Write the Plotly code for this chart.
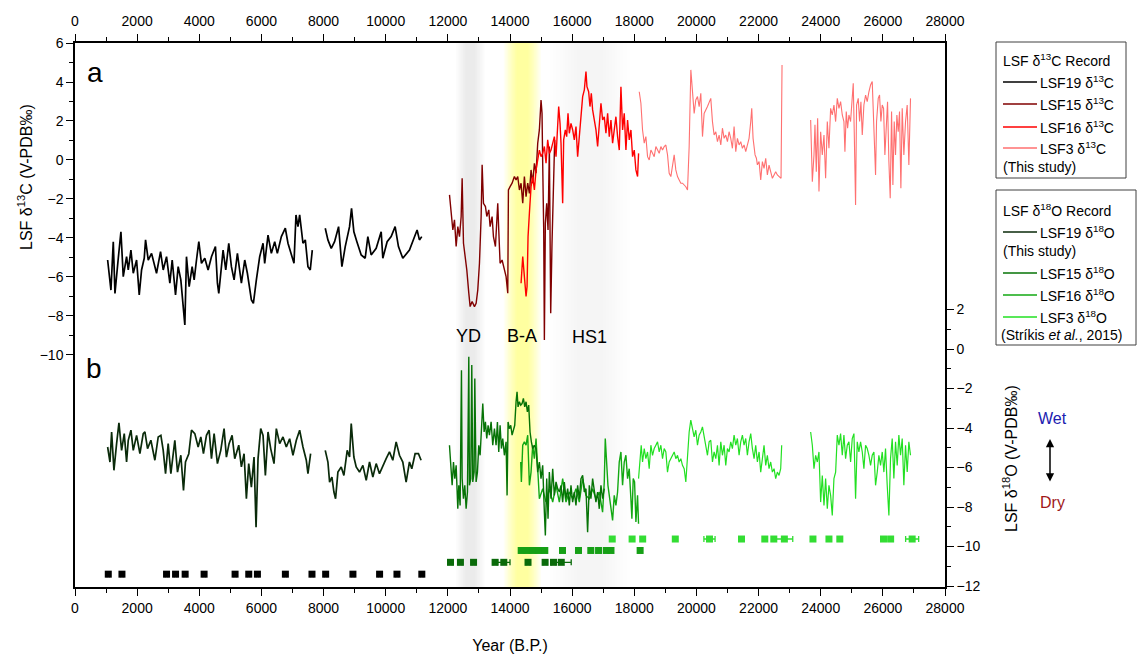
import plotly.graph_objects as go

# ---------------- DATA ----------------
# LSF19 d13C (two segments)
lsf19_c13_year_a = [1050,1157,1232,1286,1393,1478,1553,1660,1714,1800,1875,1982,2067,2142,2228,2271,2357,2464,2624,2753,
                    2839,2946,3053,3128,3235,3321,3406,3535,3588,3674,3770,3835,3910,3985,4070,4177,4284,4392,4520,4584,
                    4627,4766,4852,4949,5034,5120,5227,5355,5463,5548,5677,5741,5837,5944,6052,6105,6212,6319,6427,6512,
                    6641,6769,6855,7048,7112,7176,7230,7337,7412,7497,7572,7637]
lsf19_c13_a = [-5.13,-6.67,-4.19,-6.84,-5.04,-3.68,-5.98,-4.96,-5.64,-4.62,-5.81,-5.13,-6.92,-5.64,-5.04,-4.10,-5.13,-4.79,-5.81,-4.70,
               -5.64,-4.96,-6.32,-5.13,-6.92,-5.47,-6.15,-8.46,-4.96,-6.50,-5.47,-6.15,-5.13,-4.19,-5.30,-5.04,-5.64,-4.96,-4.44,-6.32,
               -6.84,-4.62,-5.64,-4.27,-5.47,-6.15,-4.79,-6.32,-5.13,-5.81,-7.18,-7.35,-6.15,-4.96,-4.27,-5.30,-3.85,-4.79,-4.19,-4.79,
               -3.93,-3.50,-4.27,-5.30,-2.82,-3.42,-2.82,-4.27,-4.10,-5.47,-5.64,-4.62]
lsf19_c13_year_b = [8054,8140,8247,8354,8483,8590,8697,8836,8900,8975,9072,9211,9339,9425,9532,9693,9854,9907,10046,10175,
                    10303,10410,10550,10764,11010,11085,11160]
lsf19_c13_b = [-3.50,-4.10,-4.53,-4.19,-3.42,-5.47,-4.44,-3.42,-2.48,-3.68,-4.19,-4.87,-5.04,-3.93,-4.87,-4.53,-3.68,-5.04,-4.19,-3.93,
               -3.42,-4.44,-5.04,-4.62,-3.59,-4.10,-3.93]

# LSF15 d13C
lsf15_c13_year = [12053,12106,12160,12213,12267,12321,12374,12428,12460,12503,12567,12610,12674,12717,12781,12856,12910,12963,13017,13071,
                  13103,13146,13210,13253,13317,13360,13424,13467,13531,13606,13638,13681,13745,13820,13874,13928,13949,14003,14067,14142,
                  14195,14249,14303,14356,14410,14463,14517,14570,14624,14677,14731,14785,14838,14892,14945,14999,15031,15052,15085,15106,
                  15138,15181,15224,15267,15310,15352,15395,15438]
lsf15_c13 = [-1.79,-2.56,-3.59,-3.07,-4.44,-3.42,-3.93,-2.90,-0.94,-4.27,-4.95,-5.64,-6.83,-7.52,-7.26,-7.52,-7.35,-6.66,-5.30,-2.90,
             -0.25,-2.22,-2.39,-2.90,-2.56,-3.42,-2.90,-3.93,-4.44,-2.22,-3.59,-5.30,-5.13,-5.64,-5.98,-6.83,-1.54,-1.37,-1.19,-0.85,
             -1.02,-0.85,-1.54,-1.19,-2.22,-0.85,-1.88,-1.19,-1.71,-0.51,-1.19,-0.17,-0.68,0.86,1.54,3.08,2.39,-0.17,-3.59,-9.23,
             -3.25,-2.22,-3.59,0.69,-7.86,-4.27,-1.54,1.03]

# LSF16 d13C
lsf16_c13_year = [14356,14410,14463,14517,14549,14581,14624,14677,14731,14785,14838,14892,14945,14999,15052,15106,15160,15213,15267,15320,
                  15374,15428,15481,15535,15567,15610,15642,15695,15727,15781,15824,15867,15909,15963,16017,16070,16124,16177,16231,16284,
                  16338,16392,16445,16477,16531,16574,16617,16659,16713,16767,16820,16874,16927,16981,17034,17088,17142,17195,17249,17302,
                  17356,17409,17463,17517,17570,17624,17677,17731,17784,17838,17892,17945,17999,18052,18106,18138]
lsf16_c13 = [-6.32,-4.95,-5.98,-7.00,-6.49,-3.93,-2.73,-1.37,-0.85,-1.54,-0.51,0.00,0.51,0.17,0.34,0.69,-0.17,1.03,0.34,0.51,
             0.86,1.20,0.17,1.54,2.74,1.88,0.86,-2.22,1.03,1.54,1.20,2.39,1.37,1.88,1.54,1.03,1.71,0.17,1.37,2.57,
             3.25,3.59,4.53,3.76,3.50,2.74,3.42,2.57,2.05,1.54,0.69,1.71,2.91,2.05,2.22,1.37,2.39,1.20,2.05,0.86,
             1.54,2.22,1.20,0.51,3.76,1.54,2.39,0.51,2.05,1.03,1.54,0.17,0.51,-0.51,-0.85,0.34]

# LSF3 d13C (two segments)
lsf3_c13_year_a = [18159,18213,18266,18320,18373,18427,18481,18534,18588,18641,18695,18748,18802,18856,18909,18963,19016,19070,19123,19177,
                   19230,19284,19337,19391,19445,19498,19552,19659,19713,19766,19820,19873,19927,19980,20034,20088,20141,20195,20248,20355,
                   20462,20516,20569,20623,20677,20730,20784,20837,20891,20944,20998,21051,21105,21158,21212,21266,21319,21373,21426,21480,
                   21533,21587,21640,21694,21748,21780,21823,21887,21930,21962,22016,22069,22123,22176,22230,22283,22337,22390,22444,22498,
                   22551,22605,22658,22723,22755]
lsf3_c13_a = [3.50,2.91,1.54,0.86,1.20,0.17,0.00,0.51,0.34,0.17,0.69,0.51,0.34,0.69,0.51,0.69,0.77,0.26,-0.68,-0.85,
              -0.34,0.26,-0.51,-0.85,-1.02,-1.19,-1.19,-1.37,-1.54,0.69,4.62,3.25,2.39,3.08,3.25,2.74,3.42,1.20,2.39,2.74,
              3.16,1.97,1.28,1.45,0.94,1.28,0.77,1.63,1.11,1.28,0.94,1.45,1.11,0.60,1.71,0.43,1.11,0.77,0.94,0.60,
              0.77,0.43,0.77,1.11,1.97,2.65,1.11,0.26,0.09,-0.25,-0.08,-1.02,-0.08,-0.43,0.09,-0.77,-0.26,-0.60,-0.94,-0.77,
              -0.60,-0.77,-0.85,-0.94,4.87]
lsf3_c13_year_b = [23676,23730,23783,23815,23858,23901,23944,23998,24051,24105,24158,24212,24265,24319,24372,24426,24480,24533,24587,24640,
                   24694,24747,24779,24822,24865,24908,24961,25015,25047,25079,25122,25154,25208,25251,25294,25337,25390,25444,25497,25551,
                   25605,25658,25712,25765,25797,25851,25894,25937,25980,26023,26065,26108,26151,26194,26237,26280,26323,26366,26408,26451,
                   26494,26537,26580,26623,26676,26730,26783,26837,26890]
lsf3_c13_b = [2.05,-1.11,0.26,1.80,-0.60,2.14,-1.62,1.45,0.26,1.28,-0.94,1.97,0.60,2.65,2.31,2.82,1.97,3.16,2.65,2.99,
              2.31,1.97,0.43,2.48,1.63,2.31,1.97,2.99,3.93,1.45,-2.31,2.82,3.16,1.97,2.99,1.28,2.82,3.33,2.99,3.50,
              3.85,4.02,0.94,-0.77,1.97,3.16,3.33,1.97,2.82,2.65,0.26,1.97,2.99,-0.08,-1.96,2.48,-1.28,1.97,0.26,2.31,
              1.45,2.48,-1.45,2.65,0.26,1.97,2.82,-0.26,3.16]

# LSF19 d18O (two segments)
lsf19_o18_year_a = [1050,1125,1179,1253,1339,1414,1500,1585,1660,1714,1800,1875,1982,2089,2196,2250,2335,2442,2571,2678,
                    2764,2839,2914,2999,3085,3213,3299,3406,3492,3556,3663,3749,3856,3963,4049,4134,4231,4317,4392,4477,
                    4584,4691,4798,4873,4959,5056,5141,5270,5355,5441,5516,5591,5677,5762,5827,5891,5977,6052,6127,6212,
                    6298,6405,6480,6587,6694,6801,6908,7015,7123,7230,7337,7444,7497,7583]
lsf19_o18_a = [-4.96,-5.72,-4.20,-6.14,-4.79,-3.74,-5.13,-4.28,-5.72,-4.62,-4.11,-5.13,-4.37,-5.30,-4.28,-4.20,-5.04,-4.62,-5.63,-4.45,
               -4.37,-5.13,-6.31,-4.79,-6.31,-4.62,-6.23,-5.38,-7.16,-5.72,-5.30,-4.11,-4.28,-4.96,-4.45,-5.30,-4.37,-4.11,-5.55,-4.28,
               -5.80,-5.13,-4.03,-5.47,-4.79,-4.37,-5.55,-4.87,-5.97,-5.30,-7.58,-5.80,-6.99,-5.47,-9.02,-5.55,-4.03,-4.37,-6.40,-4.20,
               -5.04,-5.80,-4.03,-4.79,-4.45,-4.96,-4.54,-5.38,-4.62,-4.11,-4.96,-5.63,-6.31,-5.30]
lsf19_o18_year_b = [8054,8140,8194,8269,8333,8386,8461,8568,8654,8761,8836,8890,8975,9050,9157,9265,9372,9479,9586,9693,
                    9800,9907,10014,10121,10228,10336,10443,10550,10657,10764,10839,10946,11053,11139]
lsf19_o18_b = [-5.13,-5.72,-6.74,-6.48,-7.24,-7.58,-6.23,-5.97,-6.40,-5.13,-5.47,-3.77,-5.47,-5.97,-6.23,-5.89,-6.65,-5.72,-6.48,-5.80,
               -6.31,-5.89,-5.55,-5.21,-5.63,-4.70,-5.38,-5.72,-6.74,-5.72,-6.06,-5.30,-5.30,-5.63]

# LSF15 d18O
lsf15_o18_year = [12052,12085,12138,12181,12224,12267,12320,12352,12395,12438,12460,12502,12545,12588,12631,12674,12695,12738,12770,12802,
                  12845,12867,12909,12952,12995,13038,13081,13124,13167,13209,13252,13295,13338,13392,13445,13499,13552,13595,13638,13681,
                  13724,13766,13820,13874,13906,13938,13981,14024,14067,14109,14152,14195,14227,14259,14302,14345,14388,14431,14474,14517,
                  14559,14602,14645,14688,14731,14784,14838,14891,14945,14998,15052,15106,15138,15181,15224,15266,15320,15374,15427,15481,
                  15534,15588,15642,15695,15749,15802,15856,15909,15963,16016,16070,16123,16177,16230,16284,16338,16391,16445,16498,16552,
                  16605,16659,16713,16766,16820,16873,16927,16980,17034]
lsf15_o18 = [-4.87,-5.72,-6.90,-5.72,-6.56,-5.89,-8.09,-6.90,-7.92,-1.07,-6.56,-7.58,-6.90,-8.09,-7.24,-0.39,-6.90,-6.56,-0.81,-6.73,
             -6.23,-1.49,-6.73,-6.23,-4.87,-5.38,-4.03,-2.76,-4.20,-3.69,-4.53,-3.86,-4.36,-3.69,-4.87,-4.03,-4.87,-3.69,-5.21,-3.86,
             -5.04,-4.53,-5.38,-4.70,-7.41,-3.69,-4.03,-3.86,-4.36,-4.03,-3.86,-2.67,-2.17,-2.93,-2.67,-2.84,-2.76,-2.50,-2.93,-2.67,
             -3.18,-2.84,-4.20,-4.70,-5.04,-4.87,-5.04,-6.23,-5.72,-6.56,-5.89,-8.26,-9.44,-6.56,-8.59,-6.23,-7.58,-6.06,-7.41,-6.73,
             -7.07,-7.24,-6.90,-7.75,-6.73,-7.58,-7.07,-7.92,-6.90,-7.75,-7.24,-7.92,-6.90,-7.58,-6.56,-6.40,-7.24,-7.07,-9.27,-6.90,
             -7.58,-6.56,-7.24,-7.75,-7.24,-8.09,-6.90,-7.58,-7.07]

# LSF16 d18O
lsf16_o18_year = [14345,14366,14409,14463,14517,14570,14624,14677,14731,14784,14838,14945,15052,15159,15266,15374,15481,15588,15695,15802,
                  15909,16016,16123,16230,16338,16445,16552,16659,16766,16873,16980,17034,17066,17109,17152,17195,17248,17302,17355,17409,
                  17462,17516,17570,17623,17677,17730,17784,17837,17891,17923,17966,18009,18052,18105,18137]
lsf16_o18 = [-5.72,-6.73,-4.87,-4.70,-4.87,-4.36,-6.90,-6.23,-4.87,-5.55,-4.53,-7.58,-7.07,-7.75,-7.07,-7.75,-6.90,-7.75,-6.56,-7.75,
             -7.24,-7.58,-7.07,-7.75,-6.56,-7.41,-7.58,-7.07,-7.58,-7.24,-8.26,-6.73,-4.53,-5.72,-6.90,-7.41,-8.09,-8.68,-7.41,-7.92,
             -7.24,-5.72,-5.21,-6.90,-5.72,-5.38,-6.56,-6.06,-7.58,-8.59,-6.56,-6.73,-8.76,-7.41,-8.85]

# LSF3 d18O (two segments)
lsf3_o18_year_a = [18137,18180,18223,18266,18320,18373,18427,18480,18534,18587,18641,18695,18748,18802,18855,18909,18962,19016,19069,19123,
                   19177,19230,19284,19337,19391,19444,19498,19551,19605,19659,19712,19766,19819,19873,19926,19980,20034,20087,20141,20194,
                   20301,20355,20409,20462,20516,20569,20623,20677,20730,20784,20837,20891,20944,20998,21051,21105,21158,21212,21266,21319,
                   21373,21426,21480,21533,21587,21640,21694,21748,21801,21855,21908,21962,22016,22069,22123,22176,22230,22283,22337,22390,
                   22444,22498,22551,22605,22658,22712,22744]
lsf3_o18_a = [-6.56,-5.38,-4.87,-5.72,-5.04,-5.55,-5.21,-6.06,-4.87,-5.38,-5.04,-4.87,-4.70,-5.21,-4.87,-5.55,-5.04,-5.21,-6.23,-5.72,
              -5.55,-5.38,-5.21,-5.55,-5.38,-5.72,-5.55,-5.89,-6.06,-6.73,-5.21,-4.20,-3.60,-4.03,-4.45,-4.11,-4.87,-4.36,-4.20,-3.94,
              -4.87,-5.38,-4.70,-4.62,-5.72,-5.21,-5.55,-4.87,-5.89,-4.70,-5.38,-4.87,-5.89,-5.04,-5.21,-4.70,-5.04,-4.36,-4.87,-4.53,
              -5.38,-4.70,-4.36,-4.87,-4.53,-5.38,-4.70,-4.28,-5.04,-5.55,-4.87,-5.72,-5.21,-6.23,-5.55,-4.87,-5.89,-5.38,-6.06,-5.72,
              -6.23,-6.06,-6.56,-6.23,-6.40,-6.06,-4.87]
lsf3_o18_year_b = [23676,23730,23783,23837,23890,23944,23998,24051,24105,24158,24212,24265,24319,24372,24426,24480,24533,24587,24640,24694,
                   24747,24801,24855,24908,24962,25015,25069,25122,25176,25229,25283,25337,25390,25444,25497,25551,25605,25658,25712,25765,
                   25819,25872,25926,25980,26033,26086,26140,26194,26247,26301,26354,26408,26462,26515,26569,26623,26676,26730,26783,26837,
                   26890]
lsf3_o18_b = [-4.20,-4.87,-6.06,-5.38,-5.72,-5.21,-7.75,-6.40,-7.92,-6.56,-8.09,-6.90,-7.41,-8.43,-6.56,-6.23,-4.36,-4.87,-4.28,-5.38,
              -4.36,-5.55,-4.87,-4.70,-5.72,-4.53,-4.28,-7.58,-4.70,-5.21,-4.70,-5.21,-6.06,-4.87,-5.04,-5.38,-5.89,-5.38,-5.21,-6.90,
              -6.23,-5.38,-5.89,-5.21,-6.23,-5.04,-6.90,-8.43,-5.55,-4.53,-6.56,-4.70,-5.89,-4.36,-5.38,-4.53,-6.90,-4.87,-6.23,-4.70,
              -5.38]

# U-Th ages (years B.P.) with errors; plotted in rows on the d18O axis
lsf19_ages = [1071,1511,2946,3236,3545,4155,5152,5592,5871,6771,7627,8067,8945,9803,10362,11162]
lsf19_err = [40,40,40,40,40,40,40,40,40,40,40,40,40,40,40,40]
lsf15_ages = [12085,12405,12827,13520,13800,14580,15130,15400,15650]
lsf15_err = [50,50,50,60,200,60,60,60,320]
lsf16_ages = [14360,14550,14740,14930,15120,15690,16205,16600,16850,17100,17250,18188]
lsf16_err = [60,60,60,60,60,60,60,60,60,60,60,60]
lsf3_ages = [17290,17930,18270,19320,20420,21450,22200,22490,22830,23750,24265,24615,26020,26250,26943]
lsf3_err = [60,60,60,60,180,60,60,60,270,60,60,60,60,60,210]
age_row_level = [-11.4, -10.8, -10.2, -9.62]   # row positions (d18O axis units)

# climate event bands (years B.P.)
band_names = ["YD", "B-A", "HS1"]
band_ranges = [(12250, 13200), (13800, 15000), (15300, 17850)]

# ---------------- STYLE ----------------
FONT = "Arial, Liberation Sans, sans-serif"
c_lsf19_c = "#000000"
c_lsf15_c = "#800000"
c_lsf16_c = "#FF0000"
c_lsf3_c = "#FF7070"
c_lsf19_o = "#0A2A0A"
c_lsf15_o = "#067306"
c_lsf16_o = "#12A812"
c_lsf3_o = "#22E022"

L, R, T, B = 75, 945, 43, 587
W, H = 1137, 654
def PX(x): return (x - L) / (R - L)
def PY(y): return 1 - (y - T) / (B - T)

def join(a, b):
    return a + [None] + b

fig = go.Figure()

def line(x, y, color, name, ya, width=1.4, xa="x"):
    fig.add_trace(go.Scatter(x=x, y=y, mode="lines", name=name, xaxis=xa, yaxis=ya,
                             line=dict(color=color, width=width), connectgaps=False,
                             showlegend=False))

# d13C on (x, y)
line(join(lsf19_c13_year_a, lsf19_c13_year_b), join(lsf19_c13_a, lsf19_c13_b), c_lsf19_c, "LSF19 δ13C", "y", 1.7)
line(lsf15_c13_year, lsf15_c13, c_lsf15_c, "LSF15 δ13C", "y")
line(lsf16_c13_year, lsf16_c13, c_lsf16_c, "LSF16 δ13C", "y")
line(join(lsf3_c13_year_a, lsf3_c13_year_b), join(lsf3_c13_a, lsf3_c13_b), c_lsf3_c, "LSF3 δ13C", "y", 1.1)

# d18O on (x, y2)
line(join(lsf19_o18_year_a, lsf19_o18_year_b), join(lsf19_o18_a, lsf19_o18_b), c_lsf19_o, "LSF19 δ18O", "y2", 1.7)
line(lsf16_o18_year, lsf16_o18, c_lsf16_o, "LSF16 δ18O", "y2")
line(lsf15_o18_year, lsf15_o18, c_lsf15_o, "LSF15 δ18O", "y2")
line(join(lsf3_o18_year_a, lsf3_o18_year_b), join(lsf3_o18_a, lsf3_o18_b), c_lsf3_o, "LSF3 δ18O", "y2", 1.2)

# ages
for ages, err, lvl, col, nm in [(lsf19_ages, lsf19_err, age_row_level[0], "#000000", "LSF19 ages"),
                                (lsf15_ages, lsf15_err, age_row_level[1], "#0A6A0A", "LSF15 ages"),
                                (lsf16_ages, lsf16_err, age_row_level[2], "#16A016", "LSF16 ages"),
                                (lsf3_ages, lsf3_err, age_row_level[3], "#33DD33", "LSF3 ages")]:
    fig.add_trace(go.Scatter(x=ages, y=[lvl] * len(ages), mode="markers", name=nm, xaxis="x", yaxis="y2",
                             marker=dict(symbol="square", size=7, color=col, line=dict(width=0)),
                             error_x=dict(type="data", array=err, color=col, thickness=1.3, width=3),
                             showlegend=False))

# invisible copy on the top (mirrored) year axis so that the top axis is drawn
fig.add_trace(go.Scatter(x=lsf19_c13_year_a, y=lsf19_c13_a, mode="lines", xaxis="x2", yaxis="y",
                         line=dict(color="rgba(0,0,0,0)", width=0), hoverinfo="skip", showlegend=False))

shapes = []
# soft-edged gradient bands
band_style = [("#A0A0A0", 0.02), ("#FFFF00", 0.045), ("#A8A8A8", 0.017)]
N = 10
for (a, b), (col, op) in zip(band_ranges, band_style):
    c = (a + b) / 2
    h = (b - a) / 2
    for k in range(N):
        hw = h * (1 - (k / N) * 0.75)
        shapes.append(dict(type="rect", xref="x", yref="paper", x0=c - hw, x1=c + hw, y0=0, y1=1,
                           fillcolor=col, opacity=op, line=dict(width=0), layer="below"))

annotations = []
# band labels
for nm, xx, yy in zip(band_names, [12650, 14400, 16550], [336, 336, 337]):
    annotations.append(dict(text=nm, x=xx, y=PY(yy), xref="x", yref="paper", showarrow=False,
                            font=dict(family=FONT, size=18, color="black"), xanchor="center", yanchor="middle"))
# panel letters
annotations.append(dict(text="a", x=PX(95), y=PY(72), xref="paper", yref="paper", showarrow=False,
                        font=dict(family=FONT, size=28, color="black"), xanchor="center", yanchor="middle"))
annotations.append(dict(text="b", x=PX(94), y=PY(368), xref="paper", yref="paper", showarrow=False,
                        font=dict(family=FONT, size=28, color="black"), xanchor="center", yanchor="middle"))
# axis titles
annotations.append(dict(text="LSF δ<sup>13</sup>C (V-PDB‰)", x=PX(25), y=PY(177), xref="paper", yref="paper",
                        showarrow=False, textangle=-90, font=dict(family=FONT, size=16, color="black"),
                        xanchor="center", yanchor="middle"))
annotations.append(dict(text="LSF δ<sup>18</sup>O (V-PDB‰)", x=PX(1010), y=PY(459), xref="paper", yref="paper",
                        showarrow=False, textangle=-90, font=dict(family=FONT, size=16, color="black"),
                        xanchor="center", yanchor="middle"))
# Wet / Dry
annotations.append(dict(text="Wet", x=PX(1052), y=PY(418), xref="paper", yref="paper", showarrow=False,
                        font=dict(family=FONT, size=16, color="#2020B0"), xanchor="center", yanchor="middle"))
annotations.append(dict(text="Dry", x=PX(1052), y=PY(502), xref="paper", yref="paper", showarrow=False,
                        font=dict(family=FONT, size=16, color="#A01818"), xanchor="center", yanchor="middle"))
annotations.append(dict(text="", x=PX(1050), y=PY(439), xref="paper", yref="paper", showarrow=True,
                        ax=0, ay=44, axref="pixel", ayref="pixel", arrowhead=2, arrowside="end+start",
                        arrowsize=1.1, arrowwidth=1.5, arrowcolor="black"))

# manual legends
lf = dict(family=FONT, size=14, color="black")
def legend_text(txt, x, y):
    annotations.append(dict(text=txt, x=PX(x), y=PY(y), xref="paper", yref="paper", showarrow=False,
                            font=lf, xanchor="left", yanchor="middle"))
def legend_line(y, col, w=1.5):
    shapes.append(dict(type="line", xref="paper", yref="paper", x0=PX(1003), x1=PX(1037), y0=PY(y), y1=PY(y),
                       line=dict(color=col, width=w)))

shapes.append(dict(type="rect", xref="paper", yref="paper", x0=PX(996), x1=PX(1126), y0=PY(178), y1=PY(42),
                   line=dict(color="#404040", width=1), fillcolor="rgba(0,0,0,0)"))
legend_text("LSF δ<sup>13</sup>C Record", 1001, 60)
for yy, col, nm in [(82, c_lsf19_c, "LSF19 δ<sup>13</sup>C"), (104, c_lsf15_c, "LSF15 δ<sup>13</sup>C"),
                    (127, c_lsf16_c, "LSF16 δ<sup>13</sup>C"), (148, c_lsf3_c, "LSF3 δ<sup>13</sup>C")]:
    legend_line(yy, col)
    legend_text(nm, 1038, yy)
legend_text("(This study)", 1001, 167)

shapes.append(dict(type="rect", xref="paper", yref="paper", x0=PX(996), x1=PX(1136), y0=PY(345), y1=PY(190),
                   line=dict(color="#404040", width=1), fillcolor="rgba(0,0,0,0)"))
legend_text("LSF δ<sup>18</sup>O Record", 1001, 210)
for yy, col, nm in [(232, c_lsf19_o, "LSF19 δ<sup>18</sup>O"), (273, c_lsf15_o, "LSF15 δ<sup>18</sup>O"),
                    (295, c_lsf16_o, "LSF16 δ<sup>18</sup>O"), (317, c_lsf3_o, "LSF3 δ<sup>18</sup>O")]:
    legend_line(yy, col)
    legend_text(nm, 1038, yy)
legend_text("(This study)", 1001, 251)
legend_text("(Stríkis <i>et al.</i>, 2015)", 999, 335)

tickfont = dict(family=FONT, size=14, color="black")
xcommon = dict(range=[0, 28000], tick0=0, dtick=2000, ticks="outside", ticklen=7, tickwidth=1.2,
               tickcolor="black", showline=True, linecolor="black", linewidth=1.5, showgrid=False,
               zeroline=False, tickfont=tickfont, fixedrange=True, exponentformat="none",
               separatethousands=False, tickformat="d", automargin=False,
               minor=dict(dtick=1000, ticks="outside", ticklen=4, tickcolor="black", tickwidth=1))
ycommon = dict(ticks="outside", ticklen=7, tickwidth=1.2, tickcolor="black", showline=True, linecolor="black",
               linewidth=1.5, showgrid=False, zeroline=False, tickfont=tickfont, fixedrange=True,
               automargin=False, anchor="x")

fig.update_layout(
    width=W, height=H,
    margin=dict(l=L, r=W - R, t=T, b=H - B),
    paper_bgcolor="white", plot_bgcolor="white",
    showlegend=False,
    font=dict(family=FONT, size=14, color="black"),
    xaxis=dict(**xcommon, side="bottom", anchor="y",
               title=dict(text="Year (B.P.)", font=dict(family=FONT, size=16, color="black"), standoff=27)),
    xaxis2=dict(**xcommon, side="top", anchor="y", overlaying="x", ticklabelstandoff=3),
    yaxis=dict(**ycommon, range=[-21.9, 6], tickvals=list(range(-10, 7, 2)), side="left",
               minor=dict(tickvals=list(range(-9, 6, 2)), ticks="outside", ticklen=4, tickcolor="black", tickwidth=1)),
    yaxis2=dict(**ycommon, range=[-12.05, 15.5], tickvals=list(range(-12, 3, 2)), side="right", overlaying="y",
                minor=dict(tickvals=list(range(-11, 2, 2)), ticks="outside", ticklen=4, tickcolor="black", tickwidth=1)),
    shapes=shapes,
    annotations=annotations,
)

fig.write_html("out.html")
